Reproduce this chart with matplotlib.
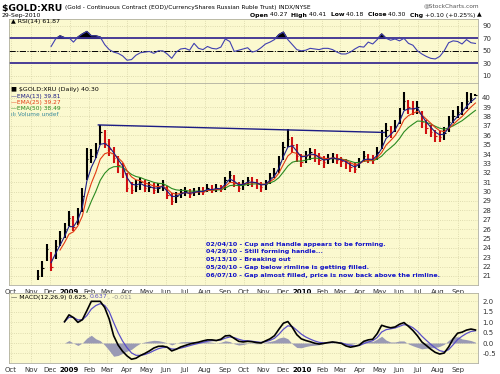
import matplotlib
matplotlib.use('Agg')
import matplotlib.pyplot as plt
import matplotlib.dates as mdates
import numpy as np
import pandas as pd

W, H = 500, 374

# weekly samples (Wednesdays)
weeks = pd.date_range('2008-11-12', '2010-09-29', freq='7D')

closes = [21.0, 21.8, 23.9, 22.0, 24.2, 25.0, 26.0, 27.2, 26.2, 27.6,
          29.5, 33.5, 33.8, 34.4, 36.3, 35.2, 34.5, 33.6, 32.8, 32.2,
          30.4, 30.2, 30.6, 31.0, 30.4, 30.5, 30.2, 30.4, 30.7, 29.6,
          29.0, 29.5, 29.9, 30.1, 29.7, 30.0, 30.1, 30.0, 30.4, 30.2,
          30.4, 30.3, 31.2, 31.8, 30.9, 30.4, 30.8, 31.2, 31.0, 30.9,
          30.5, 30.8, 31.6, 32.0, 33.2, 34.8, 35.6, 35.0, 33.8, 33.2,
          33.8, 34.2, 33.9, 33.4, 33.1, 33.5, 33.7, 33.4, 33.3, 33.0,
          32.6, 32.4, 33.2, 33.8, 33.5, 33.4, 34.2, 35.2, 36.6, 36.4,
          37.0, 38.2, 39.6, 39.0, 38.8, 39.0, 37.4, 36.8, 36.4, 35.9,
          35.8, 36.2, 37.4, 38.0, 38.5, 38.8, 39.6, 40.0, 40.3]
highs = [21.6, 22.6, 24.4, 23.6, 24.8, 25.8, 26.6, 27.9, 27.4, 28.3,
         30.4, 34.6, 34.5, 35.2, 37.1, 36.6, 35.6, 34.8, 33.8, 33.0,
         32.0, 31.0, 31.2, 31.5, 31.2, 31.0, 30.9, 30.9, 31.2, 30.6,
         29.8, 29.9, 30.3, 30.5, 30.3, 30.4, 30.5, 30.5, 30.8, 30.7,
         30.8, 30.7, 31.6, 32.2, 31.8, 31.0, 31.2, 31.6, 31.5, 31.3,
         31.0, 31.2, 32.0, 32.5, 33.8, 35.3, 36.7, 35.8, 35.1, 34.0,
         34.3, 34.6, 34.5, 34.1, 33.8, 34.0, 34.1, 34.0, 33.7, 33.5,
         33.2, 33.0, 33.6, 34.3, 34.0, 33.9, 34.8, 36.6, 37.3, 37.0,
         37.6, 38.9, 40.6, 39.8, 39.6, 39.7, 38.6, 37.6, 37.1, 36.6,
         36.5, 36.9, 38.0, 38.7, 39.1, 39.5, 40.6, 40.5, 40.41]
lows = [20.6, 20.9, 22.6, 21.5, 22.8, 24.2, 25.1, 26.3, 25.8, 26.4,
        27.8, 31.2, 33.0, 33.6, 35.0, 34.6, 33.8, 33.0, 32.0, 31.4,
        29.9, 29.7, 29.9, 30.2, 29.9, 29.9, 29.7, 29.8, 30.1, 29.2,
        28.6, 28.8, 29.3, 29.5, 29.3, 29.5, 29.6, 29.6, 29.9, 29.8,
        29.9, 29.9, 30.2, 31.0, 30.5, 30.0, 30.2, 30.6, 30.5, 30.3,
        30.0, 30.2, 30.8, 31.4, 32.0, 33.4, 34.8, 34.1, 33.1, 32.6,
        33.0, 33.4, 33.2, 32.8, 32.5, 32.9, 33.0, 32.9, 32.6, 32.4,
        32.1, 32.0, 32.5, 33.2, 33.0, 32.9, 33.4, 34.5, 35.8, 35.7,
        36.3, 37.2, 38.7, 38.3, 38.2, 38.3, 36.8, 36.1, 35.8, 35.3,
        35.3, 35.5, 36.3, 37.3, 37.8, 38.2, 38.8, 39.4, 40.18]

# RSI(14), from week 4 on
rsi = [57, 69, 74, 71, 71, 64, 72, 77, 81, 74,
       74, 72, 60, 52, 48, 46, 42, 35, 36, 43,
       47, 48, 49, 46, 50, 50, 45, 38, 48, 53,
       54, 51, 62, 54, 52, 57, 54, 53, 56, 69,
       65, 49, 51, 53, 55, 48, 50, 55, 61, 64,
       68, 76, 80, 68, 60, 52, 50, 51, 54, 53,
       52, 54, 54, 52, 48, 45, 45, 48, 53, 57,
       56, 64, 61, 68, 77, 70, 67, 69, 66, 70,
       62, 59, 50, 45, 41, 38, 37, 41, 50, 63,
       66, 65, 61, 68, 63, 61.87]

# MACD(12,26,9) line, from week 7 on
macd = [1.02, 1.35, 1.22, 0.99, 1.12, 1.55, 2.0, 2.0, 2.0, 1.7,
        1.15, 0.35, -0.1, -0.4, -0.62, -0.78, -0.73, -0.6, -0.5, -0.38,
        -0.24, -0.16, -0.15, -0.2, -0.38, -0.3, -0.19, -0.12, -0.05, 0.0,
        0.04, 0.1, 0.15, 0.15, 0.12, 0.18, 0.34, 0.36, 0.22, 0.08,
        0.05, 0.08, 0.06, 0.02, 0.0, 0.1, 0.2, 0.35, 0.66, 0.95,
        1.03, 0.75, 0.4, 0.2, 0.12, 0.06, -0.01, -0.05, -0.02, 0.02,
        0.05, 0.02, -0.02, -0.14, -0.2, -0.16, -0.1, 0.08, 0.15, 0.18,
        0.45, 0.85, 0.78, 0.73, 0.77, 0.9, 0.98, 0.8, 0.6, 0.35,
        0.05, -0.12, -0.3, -0.45, -0.53, -0.48, -0.19, 0.2, 0.47, 0.52,
        0.62, 0.67, 0.625]

notes = ['02/04/10 - Cup and Handle appears to be forming.',
         '04/29/10 - Still forming handle...',
         '05/13/10 - Breaking out',
         '05/20/10 - Gap below rimline is getting filled.',
         '06/07/10 - Gap almost filled, price is now back above the rimline.']

rim_dates = ['2009-02-15', '2010-05-09']
rim_prices = [37.1, 36.3]

YELLOW = '#fbf9cf'
GRID = '#d6d3a6'
NAVY = '#1c1c84'
RED = '#e23a12'
GREEN = '#2a8a20'

plt.rcParams['font.family'] = 'DejaVu Sans'
fig = plt.figure(figsize=(W / 100, H / 100), dpi=100)


def frac(x, y):
    return x / W, 1 - y / H


def box(top, bottom):
    return [9 / W, 1 - bottom / H, (478 - 9) / W, (bottom - top) / H]


ax_rsi = fig.add_axes(box(19, 83))
ax_px = fig.add_axes(box(83, 285))
ax_macd = fig.add_axes(box(293, 363))

xlim = (mdates.date2num(pd.Timestamp('2008-09-28')), mdates.date2num(pd.Timestamp('2010-10-03')))
months = pd.date_range('2008-10-01', '2010-09-01', freq='MS')
mlabels = [str(m.year) if m.month == 1 else m.strftime('%b') for m in months]

for ax in (ax_rsi, ax_px, ax_macd):
    ax.set_facecolor(YELLOW)
    ax.yaxis.tick_right()
    ax.tick_params(length=0, labelsize=5, colors='#333333', pad=3)
    for s in ax.spines.values():
        s.set_color('#b0b0a0')
        s.set_linewidth(0.6)
    ax.set_xticks(mdates.date2num(months))
    ax.grid(True, color=GRID, linestyle=':', linewidth=0.6)
    ax.set_axisbelow(True)

for ax in (ax_px, ax_macd):
    ax.set_xticklabels(mlabels)
    for lab in ax.get_xticklabels():
        if lab.get_text().isdigit():
            lab.set_fontweight('bold')
            lab.set_color('black')
ax_rsi.set_xticklabels([])

# ---- RSI panel
rsi_x = weeks[3:]
rsi_arr = np.array(rsi, dtype=float)
ax_rsi.axhline(70, color='#3b2f92', lw=1.3)
ax_rsi.axhline(30, color='#3b2f92', lw=1.3)
ax_rsi.axhline(50, color='black', lw=0.7, linestyle='-.')
ax_rsi.plot(rsi_x, rsi_arr, color='#4040b0', lw=0.8)
ax_rsi.fill_between(rsi_x, rsi_arr, 70, where=rsi_arr > 70, interpolate=True, color='black')
ax_rsi.set_ylim(-1.5, 101)
ax_rsi.set_yticks([10, 30, 50, 70, 90])

# ---- price panel
cl = np.array(closes)
up = np.r_[True, cl[1:] >= cl[:-1]]
bar_col = np.where(up, 'black', '#d01010')
wn = mdates.date2num(weeks)
ax_px.vlines(wn, lows, highs, colors=bar_col, lw=1.5)
ax_px.hlines(cl, wn, wn + 2.2, colors=bar_col, lw=0.8)

s = pd.Series(closes, index=weeks)
for alpha, start, col in [(0.18, 11, GREEN), (0.33, 5, RED), (0.54, 3, NAVY)]:
    ema = s.ewm(alpha=alpha).mean()
    ax_px.plot(ema.index[start:], ema.values[start:], color=col, lw=0.8)

ax_px.plot(pd.to_datetime(rim_dates), rim_prices, color=NAVY, lw=1.0)
ax_px.set_ylim(20.04, 41.57)
ax_px.set_yticks(range(21, 41))

# ---- MACD panel
m = pd.Series(macd, index=weeks[6:])
signal = m.ewm(alpha=0.45).mean()
hist = m - signal
ax_macd.fill_between(m.index, hist.values, 0, color='#9a9ab4', lw=0)
ax_macd.plot(signal.index, signal.values, color='#5a4fc8', lw=0.9)
ax_macd.plot(m.index, m.values, color='black', lw=1.2)
ax_macd.set_ylim(-0.96, 2.4)
ticks = np.arange(-0.5, 2.01, 0.5)
ax_macd.set_yticks(ticks)
ax_macd.set_yticklabels([f'{v:.1f}' for v in ticks])

for ax in (ax_rsi, ax_px, ax_macd):
    ax.set_xlim(xlim)

# ---- texts
fig.canvas.draw()
renderer = fig.canvas.get_renderer()


def run_text(x, y, parts, align='left'):
    objs = []
    for txt, size, weight, col in parts:
        objs.append(fig.text(0, 0, txt, fontsize=size, fontweight=weight, color=col, va='center'))
    widths = [t.get_window_extent(renderer).width for t in objs]
    cur = x - sum(widths) if align == 'right' else x
    for t, w in zip(objs, widths):
        t.set_position(frac(cur, y))
        cur += w


run_text(2, 8, [('$GOLD:XRU ', 6.6, 'bold', 'black'),
                ('(Gold - Continuous Contract (EOD)/CurrencyShares Russian Ruble Trust) INDX/NYSE', 4.2, 'normal', 'black')])
fig.text(*frac(479, 6), '@StockCharts.com', fontsize=4.2, color='#555555', ha='right', va='center')
fig.text(*frac(2, 15), '29-Sep-2010', fontsize=4.4, va='center')
run_text(482, 15, [('Open ', 4.4, 'bold', 'black'), ('40.27  ', 4.4, 'normal', 'black'),
                   ('High ', 4.4, 'bold', 'black'), ('40.41  ', 4.4, 'normal', 'black'),
                   ('Low ', 4.4, 'bold', 'black'), ('40.18  ', 4.4, 'normal', 'black'),
                   ('Close ', 4.4, 'bold', 'black'), ('40.30  ', 4.4, 'normal', 'black'),
                   ('Chg ', 4.4, 'bold', 'black'), ('+0.10 (+0.25%) ', 4.4, 'normal', 'black'),
                   ('▲', 4.4, 'normal', 'black')], align='right')

fig.text(*frac(11, 21), '▲ RSI(14) 61.87', fontsize=4.5, va='center')

fig.text(*frac(11, 90), '■ $GOLD:XRU (Daily) 40.30', fontsize=4.5, va='center')
fig.text(*frac(11, 96.5), '—EMA(13) 39.81', fontsize=4.2, color=NAVY, va='center')
fig.text(*frac(11, 102.5), '—EMA(25) 39.27', fontsize=4.2, color=RED, va='center')
fig.text(*frac(11, 108.5), '—EMA(50) 38.49', fontsize=4.2, color=GREEN, va='center')
fig.text(*frac(11, 114.5), 'ılı Volume undef', fontsize=4.2, color='#3a8a9a', va='center')

for i, line in enumerate(notes):
    fig.text(*frac(206, 244 + i * 7.8), line, fontsize=4.6, fontweight='bold', color='#1414c8', va='center')

run_text(11, 297, [('— MACD(12,26,9) 0.625, ', 4.5, 'normal', 'black'), ('0.637', 4.5, 'normal', '#5a4fc8'),
                   (', -0.011', 4.5, 'normal', '#909090')])

fig.savefig('out.png', dpi=100, facecolor='white')
